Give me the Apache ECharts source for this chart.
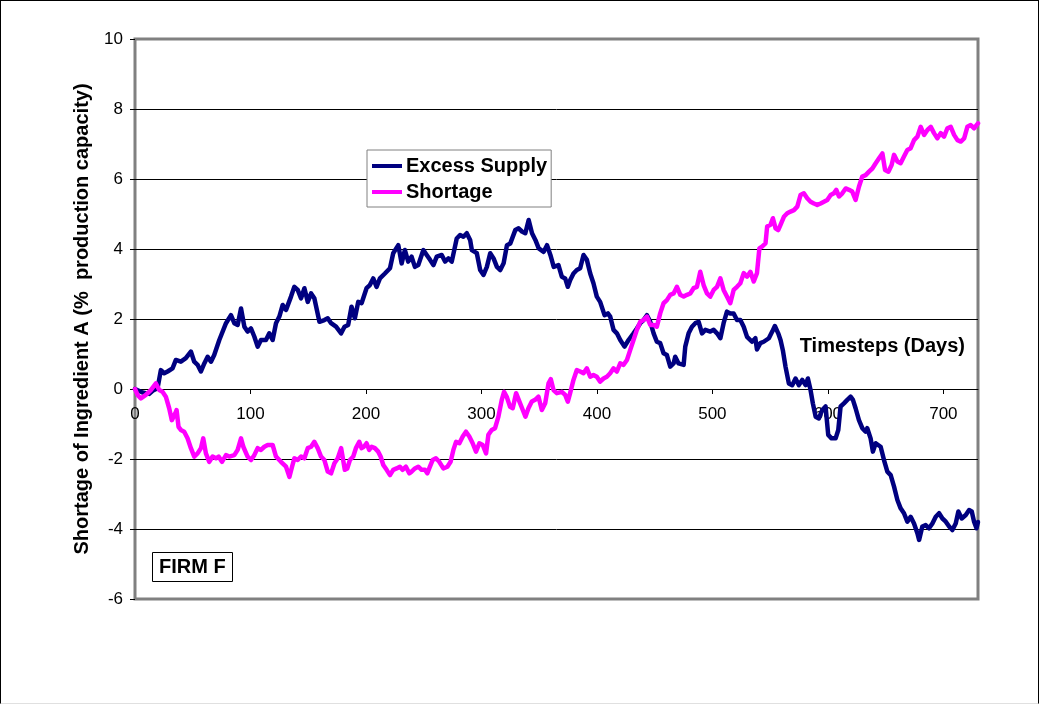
<!DOCTYPE html>
<html>
<head>
<meta charset="utf-8">
<script src="https://cdn.jsdelivr.net/npm/echarts@6/dist/echarts.min.js"></script>
<style>
  html, body { margin: 0; padding: 0; background: #fff; }
  #wrap { position: relative; width: 1039px; height: 704px; }
  #chart { position: absolute; left: 0; top: 0; width: 1039px; height: 704px; }
  #frame { position: absolute; left: 0; top: 0; width: 1039px; height: 704px; box-sizing: border-box;
           border: 1px solid #000; border-bottom-color: #e0e0e0; pointer-events: none; }
</style>
</head>
<body>
<div id="wrap">
  <div id="chart"></div>
  <div id="frame"></div>
</div>
<script>
// Daily timestep at which each reading was taken, and the reading (% of production capacity)
const supplyDays = [0, 6.5, 12.3, 15.2, 19.5, 22.4, 25.3, 28.2, 32.5, 35.4, 39.7, 44, 48.4, 51.3, 54.2, 57.1, 60, 62.9, 65.8, 68.6,
  73, 78.8, 83.1, 86, 88.9, 91.8, 94.7, 97.5, 100.4, 103.3, 106.2, 109.1, 113.4, 116.3, 119.2, 122.1, 125, 127.9, 130.8, 135.1,
  138, 140.9, 143.8, 146.7, 149.6, 152.5, 155.3, 159.7, 164, 166.9, 169.8, 174.1, 178.5, 181.4,
  184.6, 187.5, 190.4, 193.3, 196.2, 200.5, 203.4, 206.3, 209.2, 212.1, 216.4, 220.8, 223.6, 228, 230.9, 233.7, 236.6, 239.5,
  242.4, 245.3, 249.7, 252.6, 255.5, 258.4, 261.3, 265.6, 268.5, 271.4, 274.3, 278.6, 281.5, 284.4, 287.3, 290.2, 291.7, 296,
  298.9, 301.8, 304.7, 307.6, 310.5, 313.4, 316.3, 319.2, 322.1, 325, 329.3, 332.2, 335.1, 338, 340.9, 343.8, 346.7, 349.6,
  353.9, 356.8, 359.7, 362.6,
  366.7, 369.6, 372.5, 374.8, 376.8, 379.7, 382.6, 385.5, 388.4, 391.3, 394.2, 397, 399.9, 402.8, 404.3, 406.6, 409.5, 411.5,
  414.4, 417.3, 420.2, 423.9, 427.4, 431.7, 434.6, 437.5, 440.4, 443.3, 446.2, 449.1, 451.9, 454.8, 457.7, 460.6, 463.5, 466.4,
  467.8, 470.7, 475.1, 476.5, 479.4, 482.3, 485.2, 488.1, 491, 493.9, 498.2, 501.1, 504, 506.9, 509.7, 512.6, 515.5, 518.4,
  521.3, 524.2, 527.1, 530, 534.3, 537.2, 538.6, 541.5, 544.4,
  546, 548.9, 551.8, 554.1, 557, 559, 561, 563.3, 566.2, 569.1, 572, 574.9, 577.8, 580.7, 582.7, 585, 587, 589.4, 592.2, 595.1,
  598, 600.3, 603.2, 606.7, 609, 611, 613.9, 616.8, 619.7, 621.7, 624, 626.9, 629.8, 632.7, 634.1, 637, 639, 641.4, 642.8, 645.7,
  648.6, 651.5, 654.4, 657.3, 660.2, 663, 665.9, 668.8, 671.7, 674.6, 677.5, 679, 681.8, 684.7, 687.6, 690.5, 693.4, 696.3,
  699.2, 702.1, 705, 707.8, 710.7, 713, 715.9, 719.4, 722.3, 724.6, 726.6, 728.7, 730];
const supplyValues = [0, -0.1, -0.14, -0.05, 0.02, 0.54, 0.45, 0.5, 0.59, 0.83, 0.78, 0.88, 1.07, 0.78, 0.69, 0.5, 0.73, 0.92, 0.78, 0.97,
  1.4, 1.88, 2.11, 1.88, 1.83, 2.3, 1.78, 1.64, 1.73, 1.5, 1.21, 1.4, 1.4, 1.59, 1.4, 1.88, 2.07, 2.4, 2.26, 2.64,
  2.92, 2.83, 2.59, 2.88, 2.49, 2.73, 2.59, 1.92, 1.97, 2.02, 1.88, 1.78, 1.59, 1.78,
  1.83, 2.35, 2.02, 2.49, 2.45, 2.88, 2.97, 3.16, 2.92, 3.16, 3.3, 3.45, 3.88, 4.11, 3.59, 3.97, 3.64, 3.78,
  3.49, 3.54, 3.97, 3.83, 3.69, 3.54, 3.78, 3.83, 3.64, 3.73, 3.64, 4.3, 4.4, 4.35, 4.45, 4.26, 3.97, 3.88,
  3.4, 3.26, 3.49, 3.88, 3.73, 3.49, 3.4, 3.59, 4.11, 4.16, 4.54, 4.59, 4.5, 4.45, 4.83, 4.45, 4.26, 4.02,
  3.92, 4.11, 3.83, 3.49,
  3.54, 3.21, 3.16, 2.92, 3.11, 3.3, 3.4, 3.45, 3.83, 3.69, 3.3, 3.02, 2.64, 2.49, 2.54, 2.11, 2.16, 2.07,
  1.69, 1.59, 1.4, 1.21, 1.4, 1.59, 1.73, 1.88, 1.97, 2.11, 1.92, 1.59, 1.35, 1.31, 1.02, 0.97, 0.64, 0.73,
  0.92, 0.73, 0.69, 1.21, 1.59, 1.78, 1.88, 1.92, 1.59, 1.69, 1.64, 1.69, 1.59, 1.45, 1.88, 2.21, 2.16, 2.16,
  1.97, 1.97, 1.78, 1.49, 1.35, 1.45, 1.13, 1.31, 1.35,
  1.35, 1.45, 1.64, 1.8, 1.59, 1.4, 1.11, 0.64, 0.16, 0.11, 0.3, 0.11, 0.26, 0.11, 0.3, -0.03, -0.41, -0.79, -0.84, -0.6,
  -0.5, -1.31, -1.41, -1.41, -1.17, -0.5, -0.41, -0.31, -0.22, -0.31, -0.55, -0.89, -1.12, -1.22, -1.12, -1.41, -1.79, -1.55, -1.5, -1.65,
  -2.03, -2.36, -2.46, -2.79, -3.17, -3.41, -3.55, -3.79, -3.65, -3.84, -4.12, -4.31, -3.93, -3.89, -3.98, -3.84, -3.65, -3.55,
  -3.7, -3.79, -3.93, -4.03, -3.84, -3.5, -3.7, -3.6, -3.46, -3.5, -3.79, -3.98, -3.8];

const shortageDays = [0, 2.2, 5.1, 9.4, 13.7, 18.1, 19.5, 21, 23.8, 26.7, 29.6, 31.9, 34.8, 36, 37.7, 39.7, 42.6, 45.5, 48.4, 51.3,
  54.2, 57.1, 59.1, 61.4, 64.3, 67.2, 70.1, 72.4, 75.3, 78.8, 81.6, 86, 88.9, 91.8, 93.8, 97.5, 100.4, 103.3, 106.2, 109.1,
  112, 114.9, 119.2, 122.1, 126.4, 130.8, 133.7, 136, 138, 140.9, 143.8, 146.7, 149.6, 152.5, 155.3, 158.2, 161.1, 164, 166.9, 169.8,
  172.7, 175.6, 178.5,
  181.7, 183.8, 186.1, 189, 191.3, 194.2, 196.2, 198.2, 200.5, 202.8, 204.9, 207.7, 210.6, 212.7, 215, 217.9, 220.8, 223.6, 226.5, 229.4,
  231.7, 234.6, 237.5, 239.5, 242.4, 245.3, 248.2, 251.1, 253.1, 255.4, 257.7, 260.6, 263.5, 267, 270.5, 273.3, 275.7, 278, 280.9, 283.8,
  286.6, 289.5, 292.4, 295.3, 298.2, 301.1, 304, 306, 308.9, 311.8, 314.7, 317.6, 319.6, 321.9, 324.8, 327.1, 330, 332.9, 335.8, 338.1,
  340.7, 343.6, 346.5, 349.4, 352.3, 355.2, 358.1, 360.1, 362.4, 365.3,
  369.6, 372.5, 374.8, 376.8, 379.7, 382.6, 385.5, 388.4, 391.3, 394.2, 397, 399.9, 402.8, 405.7, 408.6, 411.5, 414.4, 417.3, 420.2, 423.1,
  426, 428.8, 431.7, 434.6, 437.5, 440.4, 443.3, 446.2, 449.1, 451.9, 454.8, 457.7, 460.6, 463.5, 466.4, 469.3, 472.2, 475.1, 478, 480.8,
  483.7, 486.6, 489.5, 492.4, 495.3, 498.2, 501.1, 504, 506.9, 509.7, 512.6, 515.5, 518.4, 521.3, 524.2, 527.1, 530, 532.9, 535.8, 538.6,
  540.7, 543,
  546, 547.4, 550.3, 552.4, 554.7, 557, 559, 561.9, 564.8, 567.7, 570.6, 573.5, 576.3, 579.2, 582.1, 585, 587.9, 590.8, 593.7, 596.6,
  599.5, 602.4, 605.2, 607.3, 609.6, 612.5, 615.4, 618.3, 621.1, 624, 626.9, 629.8, 632.7, 635.6, 638.5, 641.4, 644.3, 647.2, 649.5, 652.4,
  655.2, 657.3, 660.2, 663, 665.9, 668.8, 671.7, 674.6, 677.5, 680.4, 683.3, 686.2, 689.1, 691.9, 694.8, 697.7, 700.6, 703.5, 706.4, 709.3,
  712.2, 715.1, 718, 720.8, 723.7, 726.6, 730];
const shortageValues = [0, -0.17, -0.27, -0.17, -0.03, 0.16, 0.21, -0.03, -0.08, -0.22, -0.55, -0.89, -0.7, -0.6, -1.08, -1.17, -1.22, -1.41, -1.69, -1.93,
  -1.84, -1.69, -1.41, -1.84, -2.08, -1.93, -1.98, -1.93, -2.08, -1.89, -1.93, -1.89, -1.74, -1.41, -1.65, -1.93, -2.03, -1.89, -1.69, -1.74,
  -1.65, -1.6, -1.6, -1.93, -2.08, -2.22, -2.51, -2.22, -1.98, -2.03, -1.93, -1.98, -1.69, -1.65, -1.51, -1.69, -1.93, -2.03, -2.36, -2.41,
  -2.12, -1.98, -1.69,
  -2.31, -2.27, -2.03, -1.93, -1.69, -1.51, -1.69, -1.65, -1.55, -1.74, -1.65, -1.69, -1.79, -1.93, -2.17, -2.31, -2.46, -2.31, -2.27, -2.22,
  -2.31, -2.22, -2.41, -2.36, -2.27, -2.22, -2.31, -2.31, -2.41, -2.22, -2.03, -1.98, -2.08, -2.27, -2.22, -2.08, -1.74, -1.51, -1.55, -1.36,
  -1.22, -1.36, -1.55, -1.79, -1.55, -1.6, -1.84, -1.31, -1.17, -1.12, -0.79, -0.31, -0.08, -0.22, -0.51, -0.55, -0.12, -0.36, -0.6, -0.79,
  -0.55, -0.36, -0.31, -0.22, -0.6, -0.41, 0.16, 0.28, -0.03, -0.12,
  -0.08, -0.17, -0.36, -0.12, 0.26, 0.54, 0.5, 0.45, 0.59, 0.35, 0.4, 0.35, 0.21, 0.3, 0.35, 0.45, 0.59, 0.5, 0.73, 0.69,
  0.83, 1.11, 1.4, 1.69, 1.92, 1.97, 2.07, 1.83, 1.83, 1.78, 2.16, 2.45, 2.54, 2.69, 2.73, 2.92, 2.69, 2.64, 2.69, 2.73,
  2.88, 2.92, 3.35, 2.97, 2.73, 2.64, 2.83, 2.92, 3.16, 2.83, 2.64, 2.45, 2.83, 2.92, 3.02, 3.31, 3.21, 3.35, 3.07, 3.31,
  4.02, 4.07,
  4.16, 4.64, 4.69, 4.88, 4.59, 4.54, 4.69, 4.92, 5.02, 5.07, 5.11, 5.21, 5.54, 5.59, 5.45, 5.35, 5.3, 5.26, 5.3, 5.35,
  5.4, 5.54, 5.59, 5.69, 5.5, 5.59, 5.73, 5.69, 5.64, 5.4, 5.78, 6.07, 6.11, 6.21, 6.3, 6.45, 6.59, 6.73, 6.26, 6.21,
  6.4, 6.69, 6.5, 6.45, 6.64, 6.83, 6.88, 7.11, 7.21, 7.49, 7.26, 7.4, 7.49, 7.31, 7.16, 7.31, 7.21, 7.45, 7.49, 7.26,
  7.11, 7.07, 7.16, 7.49, 7.54, 7.45, 7.59];

const seriesNames = ['Excess Supply', 'Shortage'];
const seriesColors = ['#000080', '#FF00FF'];
const xTicks = { min: 0, max: 730, step: 100 };
const yTicks = { min: -6, max: 10, step: 2 };
const xAxisTitle = 'Timesteps (Days)';
const yAxisTitle = 'Shortage of Ingredient A (%  production capacity)';
const firmLabel = 'FIRM F';

const pairs = (xs, ys) => xs.map((x, i) => [x, ys[i]]);
const FONT = '"Liberation Sans", Arial, Helvetica, sans-serif';

// plot box in pixels; the day axis is lifted from the bottom edge up to the zero line
const PLOT = { left: 135, top: 39, width: 843, height: 560 };
const zeroLift = PLOT.height * (yTicks.max - 0) / (yTicks.max - yTicks.min) - PLOT.height;

const chart = echarts.init(document.getElementById('chart'), null, { renderer: 'canvas' });
chart.setOption({
  animation: false,
  backgroundColor: '#fff',
  textStyle: { fontFamily: FONT, color: '#000' },
  title: {
    text: firmLabel,
    left: 152, top: 552,
    padding: [5, 7, 5, 7],
    borderColor: '#000', borderWidth: 1, backgroundColor: '#fff',
    textStyle: { fontFamily: FONT, fontSize: 20, fontWeight: 'bold', color: '#000', lineHeight: 20 }
  },
  legend: {
    orient: 'vertical',
    left: 367, top: 150,
    padding: [6, 4, 5, 5],
    itemGap: 6,
    itemWidth: 30, itemHeight: 4,
    icon: 'rect',
    itemStyle: { borderWidth: 0 },
    backgroundColor: '#fff',
    borderColor: '#808080', borderWidth: 1,
    data: seriesNames,
    textStyle: { fontFamily: FONT, fontSize: 20, fontWeight: 'bold', color: '#000', lineHeight: 20, padding: [0, 0, 0, -1] }
  },
  grid: {
    left: PLOT.left, top: PLOT.top, width: PLOT.width, height: PLOT.height,
    show: true, borderColor: '#808080', borderWidth: 3, backgroundColor: 'transparent'
  },
  xAxis: {
    type: 'value',
    position: 'bottom',
    offset: zeroLift,
    min: xTicks.min, max: xTicks.max, interval: xTicks.step,
    name: xAxisTitle,
    nameLocation: 'end',
    nameGap: -13,
    nameTextStyle: { fontFamily: FONT, fontSize: 20, fontWeight: 'bold', color: '#000',
                     align: 'right', verticalAlign: 'bottom', lineHeight: 20, padding: [0, 0, 33, 0] },
    axisLine: { show: true, onZero: false, lineStyle: { color: '#000', width: 1 } },
    axisTick: { show: true, length: 5, lineStyle: { color: '#000', width: 1 } },
    axisLabel: { fontFamily: FONT, fontSize: 17, color: '#000', margin: 17, showMaxLabel: false },
    splitLine: { show: false }
  },
  yAxis: {
    type: 'value',
    min: yTicks.min, max: yTicks.max, interval: yTicks.step,
    name: yAxisTitle,
    nameLocation: 'middle',
    nameGap: 43,
    nameTextStyle: { fontFamily: FONT, fontSize: 20, fontWeight: 'bold', color: '#000' },
    axisLine: { show: false, onZero: false },
    axisTick: { show: true, length: 5, lineStyle: { color: '#000', width: 1 } },
    axisLabel: { fontFamily: FONT, fontSize: 17, color: '#000', margin: 12 },
    splitLine: { show: true, showMinLine: false, showMaxLine: false, lineStyle: { color: '#000', width: 1 } }
  },
  series: [
    {
      name: seriesNames[0], type: 'line', showSymbol: false, smooth: false,
      color: seriesColors[0],
      lineStyle: { width: 4.5, color: seriesColors[0], cap: 'round', join: 'round' },
      data: pairs(supplyDays, supplyValues)
    },
    {
      name: seriesNames[1], type: 'line', showSymbol: false, smooth: false,
      color: seriesColors[1],
      lineStyle: { width: 4.5, color: seriesColors[1], cap: 'round', join: 'round' },
      data: pairs(shortageDays, shortageValues)
    }
  ]
});
</script>
</body>
</html>
